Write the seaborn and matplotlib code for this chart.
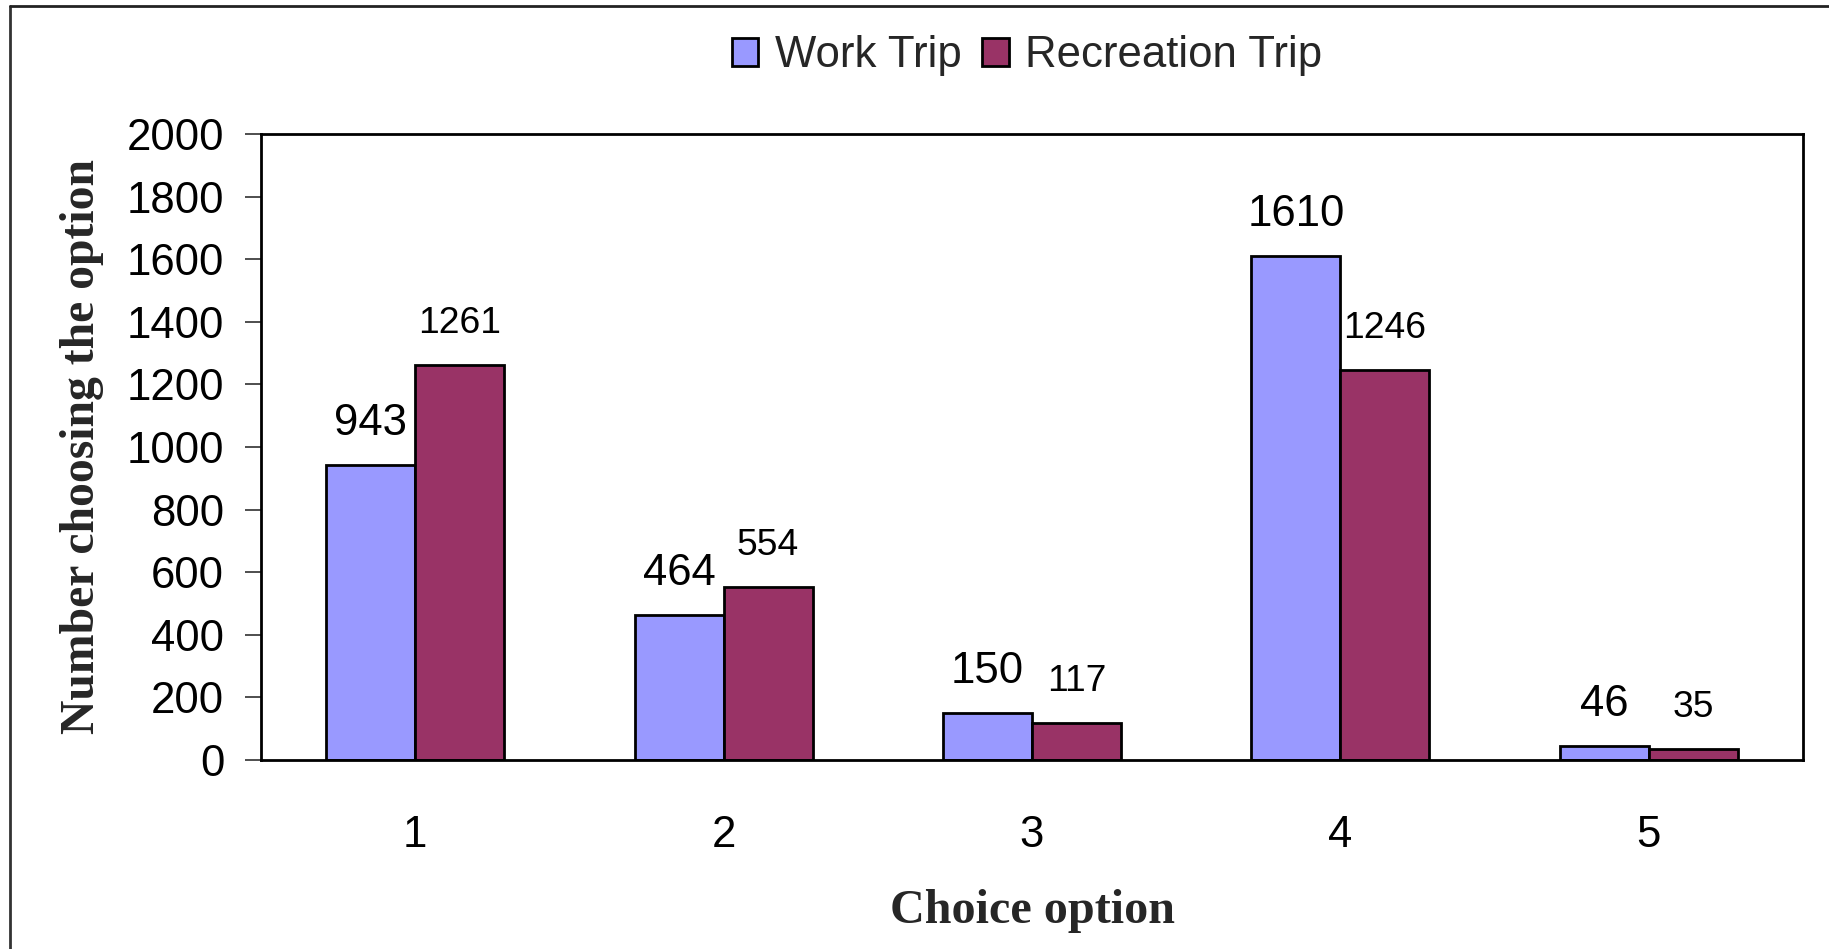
import matplotlib
matplotlib.use("Agg")
import matplotlib.pyplot as plt
from matplotlib.lines import Line2D
import pandas as pd
import seaborn as sns

# Survey counts per choice option
options = ["1", "2", "3", "4", "5"]
work_trip = [943, 464, 150, 1610, 46]
recreation_trip = [1261, 554, 117, 1246, 35]
series_names = ["Work Trip", "Recreation Trip"]
series_colors = ["#9999FF", "#993366"]
y_ticks = [0, 200, 400, 600, 800, 1000, 1200, 1400, 1600, 1800, 2000]

df = pd.DataFrame({
    "option": options * 2,
    "trip": [series_names[0]] * len(options) + [series_names[1]] * len(options),
    "count": work_trip + recreation_trip,
})

sns.set_style("white")
plt.rcParams["font.family"] = ["Liberation Sans", "DejaVu Sans"]

fig = plt.figure(figsize=(18.29, 9.49), dpi=100)
ax = fig.add_axes([0.1427, 0.1992, 0.8431, 0.6596])

sns.barplot(
    data=df, x="option", y="count", hue="trip",
    order=options, hue_order=series_names, palette=series_colors,
    width=0.577, edgecolor="black", linewidth=2.0, saturation=1.0,
    errorbar=None, ax=ax,
)

ax.set_xlim(-0.5, len(options) - 0.5)
ax.set_ylim(0, 2000)
ax.set_yticks(y_ticks)
ax.set_yticklabels([str(t) for t in y_ticks])

# Value labels above each bar: larger for work trips, smaller for recreation
label_sizes = [31.5, 26.8]
label_offsets = [21.5, 23]
for container, values, fs, off in zip(ax.containers, [work_trip, recreation_trip],
                                      label_sizes, label_offsets):
    for patch, v in zip(container.patches, values):
        cx = patch.get_x() + patch.get_width() / 2
        ax.annotate(str(v), xy=(cx, v), xytext=(0, off), textcoords="offset points",
                    ha="center", va="baseline", fontsize=fs, color="black")

for side in ["left", "right", "top", "bottom"]:
    ax.spines[side].set_visible(True)
    ax.spines[side].set_color("black")
    ax.spines[side].set_linewidth(2.0)

# Category boundary ticks below the x axis, labels at category centres
ax.set_xticks(range(len(options)))
ax.set_xticks([i - 0.5 for i in range(len(options) + 1)], minor=True)
ax.tick_params(axis="x", which="major", length=0, pad=39.5, labelsize=31.5, colors="black")
ax.tick_params(axis="x", which="minor", length=10, width=1.3, color="#404040", direction="out")
ax.tick_params(axis="y", which="major", length=11.5, width=1.3, color="#404040",
               direction="out", pad=15, labelsize=31.5, labelcolor="black", left=True)

ax.set_xlabel("Choice option", fontsize=34.7, fontweight="bold",
              family=["Liberation Serif", "DejaVu Serif"], va="center")
ax.xaxis.set_label_coords(0.5, -0.242)
ax.set_ylabel("Number choosing the option", fontsize=34.3, fontweight="bold",
              family=["Liberation Serif", "DejaVu Serif"], va="center")
ax.yaxis.set_label_coords(-0.116, 0.5)

# Legend across the top
ax.legend_.remove()
handles = [plt.Rectangle((0, 0), 1, 1, facecolor=c, edgecolor="black", linewidth=2.0)
           for c in series_colors]
fig.legend(handles, series_names, loc="center", bbox_to_anchor=(0.5615, 0.941),
           ncol=2, frameon=False, fontsize=31.5, handlelength=0.6, handleheight=0.6,
           handletextpad=0.37, columnspacing=0.48, borderaxespad=0)

# Chart-area border (left and top edges)
fig.add_artist(Line2D([10 / 1829, 10 / 1829], [0, 1 - 6 / 949],
                      transform=fig.transFigure, color="#333333", linewidth=2.0))
fig.add_artist(Line2D([10 / 1829, 1], [1 - 6 / 949, 1 - 6 / 949],
                      transform=fig.transFigure, color="#222222", linewidth=2.0))

fig.savefig("out.png", dpi=100, facecolor="white")
